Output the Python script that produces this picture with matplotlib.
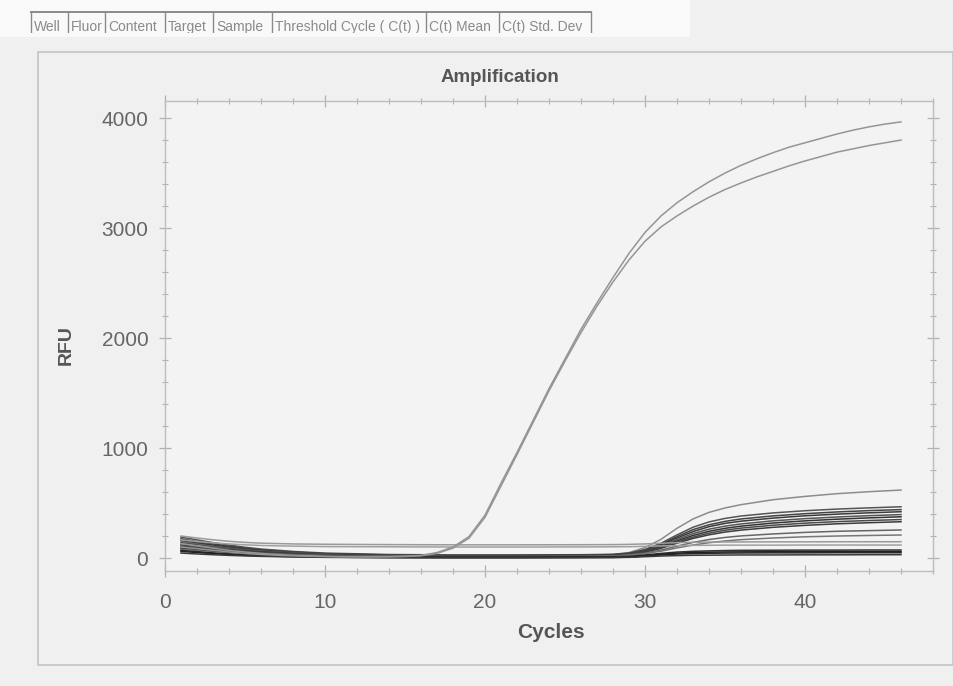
import matplotlib
matplotlib.use("Agg")
import matplotlib.pyplot as plt
from matplotlib.patches import Rectangle
from matplotlib.ticker import MultipleLocator

plt.rcParams['font.family'] = ['Liberation Sans', 'DejaVu Sans']

# ---- data ----
header_cols = ["Well", "Fluor", "Content", "Target", "Sample",
               "Threshold Cycle ( C(t) )", "C(t) Mean", "C(t) Std. Dev"]

cycles = list(range(1, 47))

# the two wells that come up early (Ct ~ 19)
rfu_high_a = [130, 110, 90, 70, 55, 42, 32, 25, 20, 16, 13, 12, 12, 13, 16, 24, 50, 100, 195, 390,
              680, 960, 1250, 1540, 1810, 2080, 2320, 2550, 2770, 2960, 3110, 3230, 3330, 3420,
              3500, 3570, 3630, 3685, 3735, 3775, 3815, 3855, 3890, 3920, 3945, 3965]
rfu_high_b = [100, 85, 70, 55, 42, 32, 25, 20, 16, 13, 11, 10, 10, 11, 14, 20, 42, 90, 180, 370,
              655, 940, 1230, 1520, 1790, 2050, 2290, 2510, 2710, 2880, 3010, 3110, 3200, 3280,
              3350, 3410, 3465, 3515, 3565, 3610, 3650, 3690, 3720, 3750, 3775, 3800]

# late / flat wells, read at fewer cycles
low_cycles = [1, 2, 3, 4, 5, 6, 8, 10, 14, 18, 22, 26, 28, 29, 30, 31, 32, 33, 34, 35, 36,
              38, 40, 42, 44, 46]
rfu_low = [
    [150, 128, 108, 90, 74, 60, 42, 30, 22, 20, 22, 26, 32, 50, 95, 170, 270, 355, 415, 455, 485, 530, 560, 585, 603, 618],
    [190, 165, 140, 118, 98, 82, 60, 45, 32, 28, 28, 30, 34, 45, 78, 135, 210, 280, 328, 360, 382, 410, 430, 445, 456, 466],
    [175, 150, 128, 108, 90, 75, 55, 40, 28, 24, 24, 27, 30, 42, 72, 125, 195, 258, 302, 333, 355, 383, 403, 419, 431, 440],
    [160, 138, 118, 100, 84, 70, 52, 38, 26, 22, 22, 25, 28, 40, 68, 118, 182, 240, 285, 315, 335, 363, 384, 399, 411, 421],
    [140, 122, 105, 90, 76, 64, 48, 35, 24, 20, 20, 22, 26, 38, 64, 108, 168, 222, 262, 290, 310, 338, 358, 373, 385, 395],
    [120, 105, 91, 78, 66, 56, 42, 31, 22, 18, 18, 20, 24, 36, 60, 100, 155, 205, 243, 270, 290, 318, 338, 353, 365, 375],
    [110, 96, 83, 71, 60, 51, 38, 28, 20, 16, 16, 19, 23, 34, 55, 93, 145, 190, 226, 253, 272, 298, 317, 331, 341, 350],
    [100, 88, 76, 65, 55, 47, 35, 26, 18, 15, 15, 17, 21, 32, 52, 88, 135, 178, 211, 236, 254, 279, 297, 311, 321, 330],
    [90, 79, 68, 58, 49, 42, 31, 23, 16, 13, 13, 15, 18, 28, 44, 72, 108, 142, 168, 187, 201, 219, 233, 243, 249, 255],
    [80, 70, 61, 52, 44, 37, 28, 20, 14, 12, 12, 14, 17, 26, 40, 62, 92, 118, 139, 155, 167, 182, 193, 200, 205, 209],
    [200, 182, 166, 152, 142, 135, 128, 125, 122, 120, 120, 121, 122, 124, 128, 134, 140, 143, 145, 146, 146, 147, 147, 148, 148, 148],
    [165, 150, 138, 128, 120, 114, 108, 104, 102, 100, 100, 101, 102, 103, 106, 110, 113, 115, 116, 117, 117, 117, 118, 118, 118, 118],
    [95, 80, 66, 54, 44, 36, 26, 18, 12, 10, 10, 11, 12, 16, 28, 42, 54, 61, 65, 68, 70, 71, 72, 72, 73, 73],
    [70, 58, 47, 38, 30, 24, 16, 11, 7, 6, 6, 7, 8, 10, 18, 28, 36, 40, 43, 45, 46, 47, 47, 48, 48, 48],
    [60, 50, 40, 32, 25, 19, 12, 8, 4, 3, 3, 4, 5, 8, 20, 34, 44, 50, 53, 55, 56, 57, 58, 59, 59, 60],
    [45, 37, 30, 24, 19, 15, 10, 6, 3, 2, 2, 3, 4, 6, 12, 18, 22, 25, 26, 27, 28, 28, 29, 29, 30, 30],
]
low_colors = ['#8c8c8c', '#555555', '#444444', '#3a3a3a', '#555555', '#333333', '#4a4a4a',
              '#3c3c3c', '#666666', '#777777', '#9a9a9a', '#a0a0a0', '#333333', '#2a2a2a',
              '#222222', '#3a3a3a']

W, H = 954, 686
fig = plt.figure(figsize=(W / 100, H / 100), dpi=100)
fig.patch.set_facecolor('#f0f0f0')

# whiter strip at the top with the table header
fig.patches.append(Rectangle((0, 1 - 36 / H), 690 / W, 36 / H, transform=fig.transFigure,
                             facecolor='#f9f9f9', edgecolor='none', zorder=0))
# outer frame of the chart panel
fig.patches.append(Rectangle((38 / W, 1 - 665 / H), (953 - 38) / W, (665 - 52) / H,
                             transform=fig.transFigure, facecolor='none',
                             edgecolor='#c4c4c4', lw=1.2, zorder=1))

# header cells (the scan cuts the row off at the bottom)
edges = [31, 68, 105, 165, 213, 272, 426, 499, 591]
top_px, cut_px = 12, 33
fig.add_artist(plt.Line2D([edges[0] / W, edges[-1] / W], [1 - top_px / H] * 2,
                          transform=fig.transFigure, color='#8a8a8a', lw=1.4))
for e in edges:
    fig.add_artist(plt.Line2D([e / W] * 2, [1 - cut_px / H, 1 - top_px / H],
                              transform=fig.transFigure, color='#8a8a8a', lw=1.0))
for i, name in enumerate(header_cols):
    fig.text((edges[i] + 3) / W, 1 - 27 / H, name, fontsize=10, color='#8a8a8a',
             ha='left', va='center', zorder=3)
fig.patches.append(Rectangle((0, 1 - 37 / H), 690 / W, (37 - cut_px) / H,
                             transform=fig.transFigure, facecolor='#f9f9f9',
                             edgecolor='none', zorder=5))

ax = fig.add_axes([165 / W, 1 - 571 / H, (933 - 165) / W, (571 - 101) / H])
ax.set_facecolor('#f3f3f3')

for vals, col in zip(rfu_low, low_colors):
    ax.plot(low_cycles, vals, color=col, lw=1.1)
ax.plot(cycles, rfu_high_a, color='#959595', lw=1.1)
ax.plot(cycles, rfu_high_b, color='#959595', lw=1.1)

ax.set_xlim(0, 48)
ax.set_ylim(-118, 4155)
ax.xaxis.set_major_locator(MultipleLocator(10))
ax.xaxis.set_minor_locator(MultipleLocator(2))
ax.yaxis.set_major_locator(MultipleLocator(1000))
ax.yaxis.set_minor_locator(MultipleLocator(200))
ax.tick_params(which='both', direction='inout', top=True, right=True, colors='#b0b0b0',
               labelcolor='#666666', labelsize=15)
ax.tick_params(which='major', length=8, width=0.9)
ax.tick_params(which='minor', length=4, width=0.8)
ax.tick_params(axis='x', pad=12)
ax.tick_params(axis='y', pad=8)
for s in ax.spines.values():
    s.set_color('#bdbdbd')
    s.set_linewidth(1.0)

ax.set_xlabel('Cycles', fontsize=15, fontweight='bold', color='#555555')
ax.set_ylabel('RFU', fontsize=14, fontweight='bold', color='#555555')
ax.xaxis.set_label_coords(0.503, -0.11)
ax.yaxis.set_label_coords(-0.118, 0.48)

fig.text(500 / W, 1 - 77 / H, 'Amplification', fontsize=13.5, fontweight='bold',
         color='#555555', ha='center', va='center')

fig.savefig('out.png', dpi=100, facecolor=fig.get_facecolor())
